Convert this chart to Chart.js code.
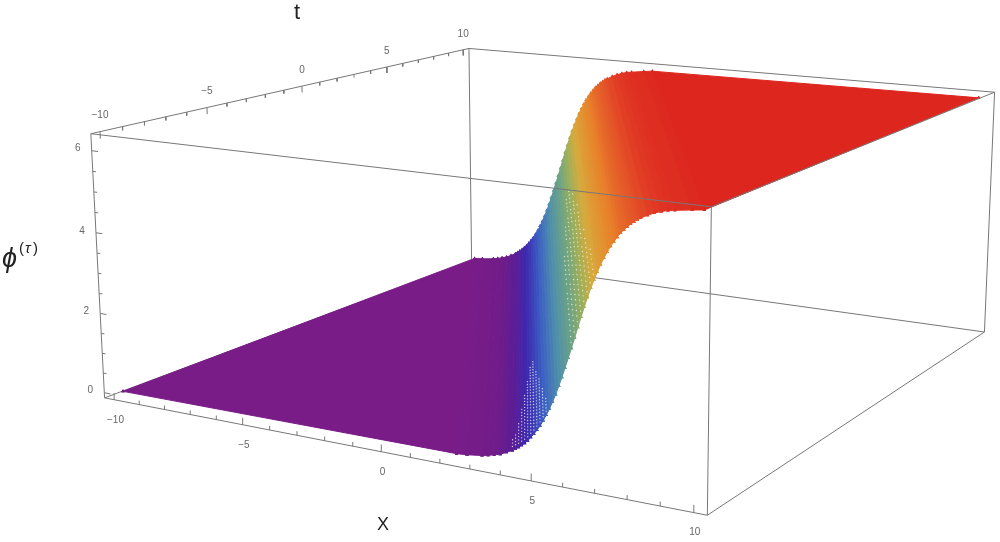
<!DOCTYPE html>
<html>
<head>
<meta charset="utf-8">
<style>
  html, body { margin: 0; padding: 0; background: #fff; }
  canvas { display: block; }
</style>
</head>
<body>
<canvas id="surfaceChart" width="1000" height="542"></canvas>
<script src="https://cdn.jsdelivr.net/npm/chart.js@4"></script>
<script>
// axis ticks
const xTicks = [-10, -5, 0, 5, 10];
const tTicks = [-10, -5, 0, 5, 10];
const zTicks = [0, 2, 4, 6];
const xMinorTicks = [-9, -8, -7, -6, -4, -3, -2, -1, 1, 2, 3, 4, 6, 7, 8, 9];
const tMinorTicks = [-9, -8, -7, -6, -4, -3, -2, -1, 1, 2, 3, 4, 6, 7, 8, 9];
const zMinorTicks = [0.5, 1, 1.5, 2.5, 3, 3.5, 4.5, 5, 5.5];

// box limits
const xRange = [-10.4, 10.4];
const tRange = [-10.4, 10.4];
const zRange = [-0.13, 6.41];

// surface limits and how far the front moves in x per unit of t
const xLimits = [-10, 10];
const tLimits = [-10, 10];
const frontSpeed = 0.615;

// height read across the front, u is the distance from the middle of the front
const frontU = [-16.15, -3.85, -3.5, -3, -2.8, -2.6, -2.4, -2.2, -2, -1.9, -1.8, -1.7, -1.6, -1.5, -1.4, -1.3, -1.2, -1.1, -1, -0.9, -0.8, -0.7, -0.6, -0.5, -0.4, -0.3, -0.2, -0.1, 0, 0.1, 0.2, 0.3, 0.4, 0.5, 0.6, 0.7, 0.8, 0.9, 1, 1.1, 1.2, 1.3, 1.4, 1.5, 1.6, 1.7, 1.8, 1.9, 2, 2.2, 2.4, 2.6, 2.8, 3, 3.5, 3.85, 16.15];
const frontPhi = [0, 0.04, 0.06, 0.11, 0.14, 0.18, 0.22, 0.29, 0.36, 0.41, 0.46, 0.52, 0.58, 0.65, 0.74, 0.83, 0.93, 1.04, 1.17, 1.31, 1.46, 1.63, 1.81, 2.01, 2.22, 2.44, 2.67, 2.9, 3.14, 3.38, 3.62, 3.85, 4.07, 4.28, 4.47, 4.65, 4.82, 4.97, 5.11, 5.24, 5.35, 5.45, 5.55, 5.63, 5.7, 5.77, 5.82, 5.88, 5.92, 6, 6.06, 6.11, 6.15, 6.17, 6.22, 6.25, 6.28];

// pinholes between the plotted points: rows of the front and how far along t each one runs
const lowGapU = [-2, -1.9, -1.8, -1.7, -1.6, -1.5, -1.4, -1.3, -1.2, -1.1, -1, -0.9];
const lowGapEnd = [-9.2, -8.8, -8.2, -7.2, -6.2, -5.2, -4.2, -3.8, -5, -6.2, -7.4, -8.6];
const lowGapT = [-9.7, -9.45, -9.2, -8.95, -8.7, -8.45, -8.2, -7.95, -7.7, -7.45, -7.2, -6.95, -6.7, -6.45, -6.2, -5.95, -5.7, -5.45, -5.2, -4.95, -4.7, -4.45, -4.2, -3.95];
const highGapU = [-0.1, 0, 0.1, 0.2, 0.3, 0.4, 0.5, 0.6];
const highGapEnd = [-1, 2, 4, 4, 3, 0, -4, -7];
const highGapT = [-9.5, -9, -8.5, -8, -7.5, -7, -6.5, -6, -5.5, -5, -4, -3.5, -3, -2.5, -2, -1.5, -1, 0, 0.5, 1, 1.5, 2.5, 3, 3.5, 4];

// colour by height
const rainbowAt = [0, 0.03, 0.06, 0.1, 0.19, 0.32, 0.49, 0.61, 0.71, 0.85, 0.93, 0.97, 1];
const rainbowRgb = [[122, 28, 135], [112, 28, 138], [90, 30, 150], [62, 40, 175], [60, 95, 195], [78, 143, 172], [112, 165, 130], [160, 175, 90], [216, 170, 60], [232, 130, 42], [228, 85, 40], [224, 55, 36], [220, 36, 30]];

// view of the box, taken from where its corners sit in the picture
const camera = [
  [500.94504, 490.93561, -16.28753, 101.39294],
  [41.10712, -72.57359, -271.69286, 399.72848],
  [-0.15047, 0.25663, -0.02764, 1]
];

function project(x, t, z) {
  const a = (x - xRange[0]) / (xRange[1] - xRange[0]);
  const b = (t - tRange[0]) / (tRange[1] - tRange[0]);
  const c = (z - zRange[0]) / (zRange[1] - zRange[0]);
  const row = r => r[0] * a + r[1] * b + r[2] * c + r[3];
  const w = row(camera[2]);
  return { x: row(camera[0]) / w, y: row(camera[1]) / w };
}

function colorFor(phi) {
  const f = Math.min(1, Math.max(0, phi / 6.28));
  let i = 0;
  while (i < rainbowAt.length - 2 && f > rainbowAt[i + 1]) i++;
  const k = (f - rainbowAt[i]) / (rainbowAt[i + 1] - rainbowAt[i]);
  const c = rainbowRgb[i].map((v, j) => Math.round(v + (rainbowRgb[i + 1][j] - v) * k));
  return `rgb(${c[0]},${c[1]},${c[2]})`;
}

// one straight line of equal height on the surface
function rowEnds(u, phi) {
  const t0 = Math.max(tLimits[0], (u - xLimits[1]) / frontSpeed);
  const t1 = Math.min(tLimits[1], (u - xLimits[0]) / frontSpeed);
  return [project(u - frontSpeed * t0, t0, phi), project(u - frontSpeed * t1, t1, phi)];
}

function surfaceDatasets() {
  const strips = [];
  for (let i = 0; i < frontU.length - 1; i++) {
    const a = rowEnds(frontU[i], frontPhi[i]);
    const b = rowEnds(frontU[i + 1], frontPhi[i + 1]);
    const color = colorFor((frontPhi[i] + frontPhi[i + 1]) / 2);
    strips.push({
      data: [a[0], a[1], b[1], b[0], a[0]],
      showLine: true,
      fill: 'shape',
      backgroundColor: color,
      borderColor: color,
      borderWidth: 1,
      borderJoinStyle: 'bevel',
      pointStyle: 'triangle',
      pointRadius: 2,
      pointBorderWidth: 0,
      pointBackgroundColor: color
    });
  }
  return strips;
}

function gapDataset(rows, ends, times, color) {
  const data = [];
  rows.forEach((u, i) => {
    const phi = frontPhi[frontU.indexOf(u)];
    times.filter(t => t <= ends[i]).forEach(t => {
      data.push(project(u - frontSpeed * t, t, phi));
    });
  });
  return { data, showLine: false, pointRadius: 0.7, pointBorderWidth: 0, pointBackgroundColor: color };
}

function lineDataset(segments, color) {
  const data = [];
  segments.forEach(([p, q]) => {
    data.push(project(...p), project(...q), { x: NaN, y: NaN });
  });
  return { data, showLine: true, borderColor: color, borderWidth: 1, pointRadius: 0, spanGaps: false };
}

function tickSegments() {
  const segs = [];
  const [x0] = xRange;
  const [t0] = tRange;
  const [z0, z1] = zRange;
  xTicks.forEach(v => segs.push([[v, t0, z0], [v, t0, z0 + 0.17]]));
  xMinorTicks.forEach(v => segs.push([[v, t0, z0], [v, t0, z0 + 0.1]]));
  tTicks.forEach(v => segs.push([[x0, v, z1], [x0, v, z1 - 0.17]]));
  tMinorTicks.forEach(v => segs.push([[x0, v, z1], [x0, v, z1 - 0.09]]));
  zTicks.forEach(v => segs.push([[x0, t0, v], [x0 + 0.25, t0, v]]));
  zMinorTicks.forEach(v => segs.push([[x0, t0, v], [x0 + 0.13, t0, v]]));
  return segs;
}

const [xa, xb] = xRange;
const [ta, tb] = tRange;
const [za, zb] = zRange;
const backEdges = [
  [[xa, tb, za], [xb, tb, za]],
  [[xa, tb, za], [xa, ta, za]],
  [[xa, tb, za], [xa, tb, zb]],
  [[xa, tb, zb], [xb, tb, zb]],
  [[xa, tb, zb], [xa, ta, zb]],
  [[xa, ta, za], [xb, ta, za]],
  [[xa, ta, za], [xa, ta, zb]],
  [[xb, ta, za], [xb, tb, za]],
  [[xb, tb, za], [xb, tb, zb]]
];
const frontEdges = [
  [[xa, ta, zb], [xb, ta, zb]],
  [[xb, ta, zb], [xb, tb, zb]],
  [[xb, ta, za], [xb, ta, zb]]
];

const axisLabels = {
  id: 'axisLabels',
  afterDatasetsDraw(chart) {
    const { ctx, scales } = chart;
    const put = (text, p, dx, dy) => {
      ctx.fillText(text, scales.x.getPixelForValue(p.x) + dx, scales.y.getPixelForValue(p.y) + dy);
    };
    const name = v => (v < 0 ? '\u2212' + Math.abs(v) : String(v));
    ctx.save();
    ctx.textAlign = 'center';
    ctx.textBaseline = 'middle';
    ctx.fillStyle = '#666';
    ctx.font = '10px "Liberation Sans"';
    xTicks.forEach(v => put(name(v), project(v, ta, za), 1, 20));
    tTicks.forEach(v => put(name(v), project(xa, v, zb), 0, -16));
    zTicks.forEach(v => put(name(v), project(xa, ta, v), -14, -2));
    ctx.fillStyle = '#222';
    ctx.font = '22px "Liberation Sans"';
    ctx.fillText('t', 297, 13);
    ctx.font = '18px "Liberation Sans"';
    ctx.fillText('X', 383, 525);
    ctx.textAlign = 'left';
    ctx.font = 'italic 27px "Liberation Sans"';
    ctx.fillText('\u03d5', 2, 259);
    ctx.font = '15px "Liberation Sans"';
    ctx.fillText('(', 19, 249);
    ctx.font = 'italic 15px "Liberation Sans"';
    ctx.fillText('\u03c4', 25, 249);
    ctx.font = '15px "Liberation Sans"';
    ctx.fillText(')', 33, 249);
    ctx.restore();
  }
};

new Chart(document.getElementById('surfaceChart').getContext('2d'), {
  type: 'scatter',
  data: {
    datasets: [
      lineDataset(frontEdges, '#777'),
      gapDataset(lowGapU, lowGapEnd, lowGapT, 'rgba(255,255,255,0.75)'),
      gapDataset(highGapU, highGapEnd, highGapT, 'rgba(255,255,235,0.7)'),
      ...surfaceDatasets().reverse(),
      lineDataset(backEdges, '#777'),
      lineDataset(tickSegments(), '#777')
    ]
  },
  options: {
    responsive: false,
    animation: false,
    layout: { padding: 0 },
    plugins: { legend: { display: false }, tooltip: { enabled: false } },
    scales: {
      x: { type: 'linear', display: false, min: 0, max: 1000 },
      y: { type: 'linear', display: false, min: 0, max: 542, reverse: true }
    }
  },
  plugins: [axisLabels]
});
</script>
</body>
</html>
